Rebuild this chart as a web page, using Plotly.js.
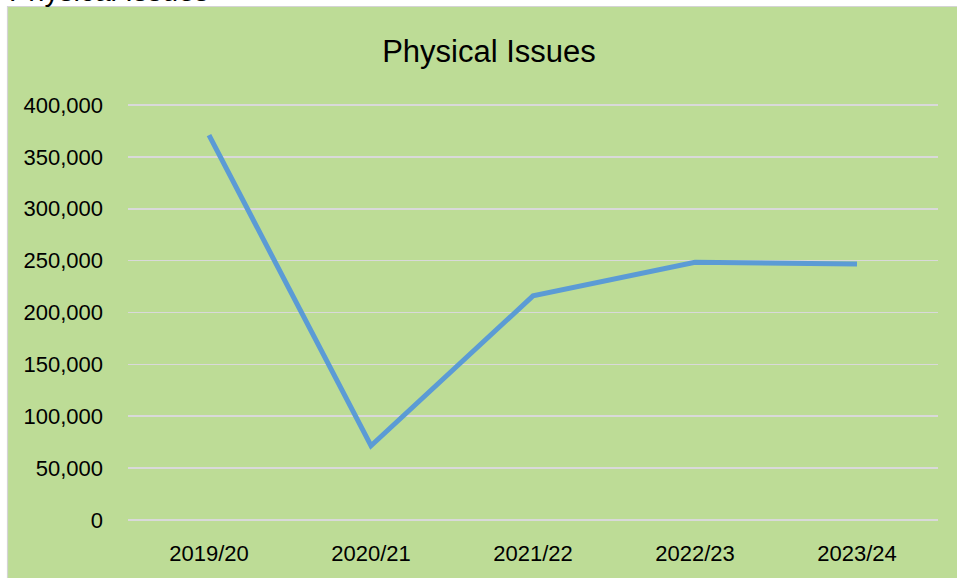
<!DOCTYPE html>
<html>
<head>
<meta charset="utf-8">
<script src="https://cdn.plot.ly/plotly-3.0.1.min.js"></script>
<style>html,body{margin:0;padding:0;background:#fff;}#chart{width:957px;height:578px;}</style>
</head>
<body>
<div id="chart"></div>
<script>
const years = ["2019/20", "2020/21", "2021/22", "2022/23", "2023/24"];
const physicalIssues = [371000, 71500, 216000, 248500, 246800];
const yTickValues = [0, 50000, 100000, 150000, 200000, 250000, 300000, 350000, 400000];
const yTickLabels = ["0", "50,000", "100,000", "150,000", "200,000", "250,000", "300,000", "350,000", "400,000"];
const chartTitle = "Physical Issues";

const W = 957, H = 578;
const L = 128, R = 19, T = 103, B = 56;
const pw = W - L - R, ph = H - T - B;
const px = v => (v - L) / pw;
const py = v => (H - B - v) / ph;

const trace = {
  x: years,
  y: physicalIssues,
  type: "scatter",
  mode: "lines",
  line: {color: "#5B9BD5", width: 5},
  hoverinfo: "x+y"
};

const layout = {
  width: W, height: H,
  margin: {l: L, r: R, t: T, b: B, pad: 0},
  paper_bgcolor: "#ffffff",
  plot_bgcolor: "rgba(0,0,0,0)",
  showlegend: false,
  font: {family: "Liberation Sans, Arial, sans-serif", color: "#000000"},
  title: {
    text: chartTitle,
    font: {family: "Liberation Sans, Arial, sans-serif", size: 31, color: "#000000"},
    x: 489 / W, xref: "container", xanchor: "center",
    y: 1 - 51 / H, yref: "container", yanchor: "middle"
  },
  xaxis: {
    type: "category",
    range: [-0.5, 4.5],
    showgrid: false, zeroline: false, showline: false,
    ticks: "",
    ticklabelstandoff: 16,
    tickfont: {size: 22, color: "#000000"}
  },
  yaxis: {
    range: [-2000, 402000],
    tickmode: "array",
    tickvals: yTickValues,
    ticktext: yTickLabels,
    showgrid: true, gridcolor: "#D9D9D9", gridwidth: 1.5,
    zeroline: false, showline: false,
    ticks: "",
    ticklabelstandoff: 24,
    tickfont: {size: 22, color: "#000000"}
  },
  shapes: [{
    type: "rect", xref: "paper", yref: "paper", layer: "below",
    x0: px(7.5), x1: px(960), y0: py(582), y1: py(6.5),
    fillcolor: "#BDDC96",
    line: {color: "#D4D4D4", width: 1.2}
  }],
  annotations: [{
    text: chartTitle,
    xref: "paper", yref: "paper",
    x: px(7), xanchor: "left",
    y: py(9.5), yanchor: "bottom",
    showarrow: false,
    font: {family: "Liberation Sans, Arial, sans-serif", size: 29, color: "#000000"}
  }]
};

Plotly.newPlot("chart", [trace], layout, {displayModeBar: false, staticPlot: true});
</script>
</body>
</html>
